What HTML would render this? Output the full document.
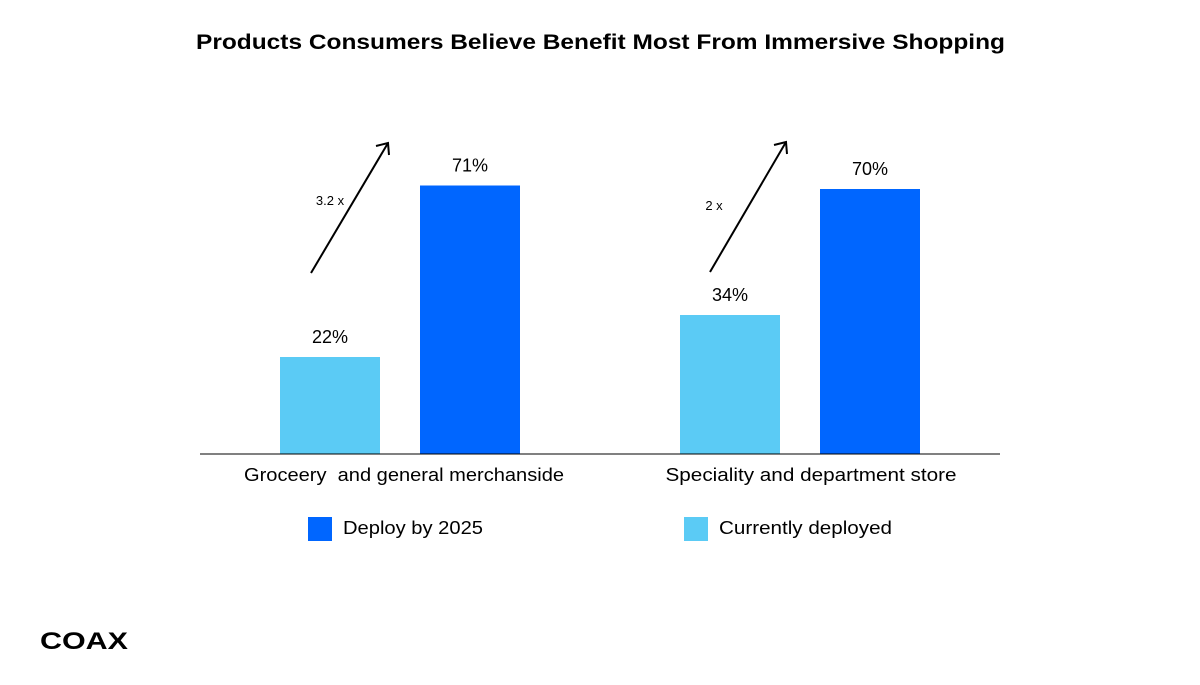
<!DOCTYPE html>
<html><head><meta charset="utf-8"><style>
body{margin:0;background:#fff;}
svg text{font-family:"Liberation Sans",sans-serif;fill:#000;}
</style></head><body>
<svg id="chart" width="1200" height="680" viewBox="0 0 1200 680">
<rect width="1200" height="680" fill="#fff"/>
<text x="196" y="49" font-size="21" font-weight="bold" textLength="809" lengthAdjust="spacingAndGlyphs">Products Consumers Believe Benefit Most From Immersive Shopping</text>
<g id="bars"></g>
<line x1="200" y1="454" x2="1000" y2="454" stroke="#000" stroke-width="1"/>
<g>
<line x1="311" y1="273" x2="388" y2="143" stroke="#000" stroke-width="2"/>
<polyline points="376,146 388,143 389,155" fill="none" stroke="#000" stroke-width="2"/>
<text x="330" y="205" text-anchor="middle" font-size="13">3.2 x</text>
</g>
<g>
<line x1="710" y1="272" x2="786" y2="142" stroke="#000" stroke-width="2"/>
<polyline points="774,145 786,142 787,154" fill="none" stroke="#000" stroke-width="2"/>
<text x="714" y="210" text-anchor="middle" font-size="13">2 x</text>
</g>
<g>
<rect x="308" y="517" width="24" height="24" fill="#0066FF"/>
<text x="343" y="534" font-size="18" textLength="140" lengthAdjust="spacingAndGlyphs">Deploy by 2025</text>
<rect x="684" y="517" width="24" height="24" fill="#5BCBF5"/>
<text x="719" y="534" font-size="18" textLength="173" lengthAdjust="spacingAndGlyphs">Currently deployed</text>
</g>
<g>
<text x="40" y="649" font-size="24" font-weight="bold" textLength="88" lengthAdjust="spacingAndGlyphs">COAX</text>
</g>
</svg>
<script>
const categories = ["Groceery  and general merchanside", "Speciality and department store"];
const currentValues = [22, 34];
const deployValues = [71, 70];
const NS = "http://www.w3.org/2000/svg";
const g = document.getElementById('bars');
const baseY = 454;
const labelWidths = [320, 291];
const labelCenters = [404, 811];
function yScale(v){ return baseY - (20 + v * 3.5); }
function groupCenter(i){ return 400 + i * 400; }
function addBar(x, v, color, name){
  const r = document.createElementNS(NS,'rect');
  r.setAttribute('x', x); r.setAttribute('y', yScale(v));
  r.setAttribute('width', 100); r.setAttribute('height', baseY - yScale(v));
  r.setAttribute('fill', color);
  
  
  g.appendChild(r);
  const t = document.createElementNS(NS,'text');
  t.setAttribute('x', x + 50); t.setAttribute('y', yScale(v) - 14);
  t.setAttribute('text-anchor','middle'); t.setAttribute('font-size','18');
  t.textContent = v + '%';
  
  
  g.appendChild(t);
}
categories.forEach((c, i) => {
  const cx = groupCenter(i);
  addBar(cx - 120, currentValues[i], '#5BCBF5', 'bar-current-' + (i+1));
  addBar(cx + 20, deployValues[i], '#0066FF', 'bar-deploy-' + (i+1));
  const t = document.createElementNS(NS,'text');
  t.setAttribute('x', labelCenters[i] - labelWidths[i]/2); t.setAttribute('y', 481);
  t.setAttribute('font-size','18');
  t.setAttribute('textLength', labelWidths[i]);
  t.setAttribute('lengthAdjust','spacingAndGlyphs');
  t.style.whiteSpace = 'pre';
  t.textContent = c;
  
  
  g.appendChild(t);
});
</script>
</body></html>
